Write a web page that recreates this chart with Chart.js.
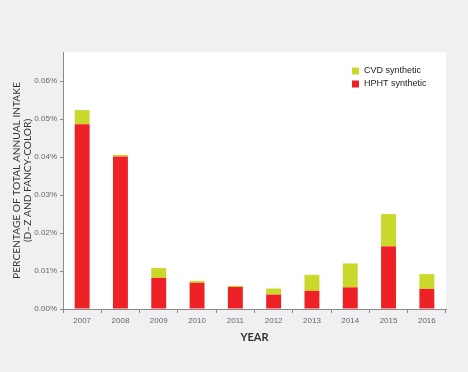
<!DOCTYPE html>
<html>
<head>
<meta charset="utf-8">
<script src="https://cdn.jsdelivr.net/npm/chart.js@4"></script>
<style>
  html, body { margin: 0; padding: 0; background: #f0f0f2; }
  #wrap { width: 468px; height: 372px; position: relative; }
</style>
</head>
<body>
<div id="wrap"><canvas id="chart"></canvas></div>
<script>
// Données (en % de l'apport annuel)
const years = ['2007', '2008', '2009', '2010', '2011', '2012', '2013', '2014', '2015', '2016'];
const hphtValues = [0.0487, 0.0402, 0.0082, 0.0069, 0.0058, 0.0038, 0.0048, 0.0057, 0.0165, 0.0053];
const cvdValues = [0.0037, 0.0004, 0.0026, 0.0005, 0.0003, 0.0016, 0.0042, 0.0063, 0.0085, 0.0039];
const yTicks = [0, 0.01, 0.02, 0.03, 0.04, 0.05, 0.06];

const RED = '#ee2226';
const GREEN = '#c9d82b';
const AXIS = '#8a8a8a';

// Fond blanc de la zone de tracé + légende dessinée à la main
const plotBackground = {
    id: 'plotBackground',
    beforeDraw(chart) {
        const { ctx, chartArea: a } = chart;
        ctx.save();
        ctx.fillStyle = '#ffffff';
        ctx.fillRect(a.left, a.top, a.right - a.left, a.bottom - a.top);
        ctx.restore();
    },
    afterDraw(chart) {
        const ctx = chart.ctx;
        const items = [chart.data.datasets[1], chart.data.datasets[0]];
        ctx.save();
        ctx.font = '9px "Liberation Sans", Arial, sans-serif';
        ctx.textBaseline = 'middle';
        items.forEach((ds, i) => {
            const y = 71 + i * 13;
            ctx.fillStyle = ds.backgroundColor;
            ctx.fillRect(352, y - 3.5, 7, 7);
            ctx.fillStyle = '#222';
            ctx.fillText(ds.label, 364, y);
        });
        ctx.restore();
    }
};

new Chart(document.getElementById('chart'), {
    type: 'bar',
    data: {
        labels: years,
        datasets: [
            {
                label: 'HPHT synthetic',
                data: hphtValues,
                backgroundColor: RED,
                barPercentage: 0.78,
                categoryPercentage: 0.5
            },
            {
                label: 'CVD synthetic',
                data: cvdValues,
                backgroundColor: GREEN,
                barPercentage: 0.78,
                categoryPercentage: 0.5
            }
        ]
    },
    options: {
        responsive: true,
        maintainAspectRatio: false,
        animation: false,
        layout: { padding: { left: 11, top: 52, right: 22, bottom: 28 } },
        plugins: {
            legend: { display: false },
            tooltip: { enabled: false }
        },
        scales: {
            x: {
                stacked: true,
                border: { color: AXIS, width: 1 },
                grid: { drawOnChartArea: false, drawTicks: true, tickLength: 4, color: AXIS },
                ticks: {
                    color: '#666',
                    font: { family: '"Liberation Sans", Arial, sans-serif', size: 8 },
                    padding: 3,
                    maxRotation: 0
                },
                title: {
                    display: true,
                    text: 'YEAR',
                    color: '#333',
                    font: { family: 'Lato, sans-serif', size: 11, weight: 'bold' },
                    padding: { top: 3, bottom: 0 }
                },
                afterFit(scale) { scale.height = 35; }
            },
            y: {
                stacked: true,
                min: 0,
                max: 0.0677,
                border: { color: AXIS, width: 1 },
                grid: { drawOnChartArea: false, drawTicks: true, tickLength: 3, color: AXIS },
                afterBuildTicks(scale) {
                    scale.ticks = yTicks.map(v => ({ value: v }));
                },
                ticks: {
                    color: '#666',
                    font: { family: '"Liberation Sans", Arial, sans-serif', size: 8 },
                    padding: 3,
                    callback: (v) => v.toFixed(2) + '%'
                },
                title: {
                    display: true,
                    text: ['PERCENTAGE OF TOTAL ANNUAL INTAKE', '(D–Z AND FANCY-COLOR)'],
                    color: '#333',
                    font: { family: 'Lato, sans-serif', size: 10.2, lineHeight: 1.1 },
                    padding: { top: 0, bottom: 0 }
                },
                afterFit(scale) { scale.width = 52; }
            }
        }
    },
    plugins: [plotBackground]
});
</script>
</body>
</html>
